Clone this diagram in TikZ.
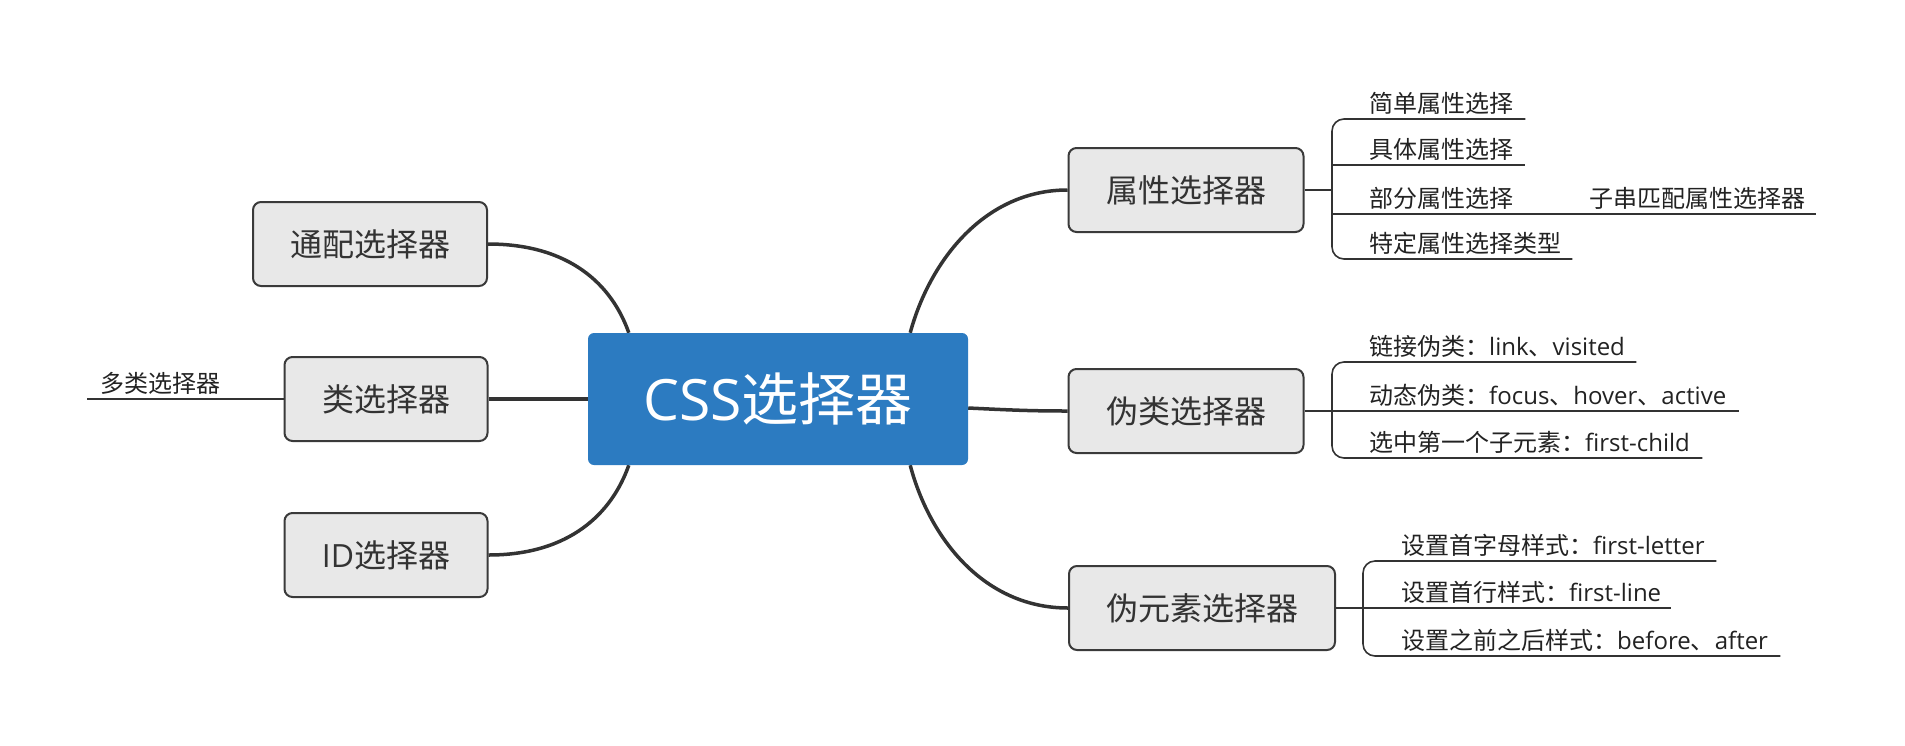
\documentclass[tikz,border=0pt]{standalone}
\usepackage{fontspec}
\setmainfont{Open Sans}
\newfontfamily\cjk{Noto Sans CJK SC}
\newcommand\zh[1]{{\cjk #1}}
\usetikzlibrary{backgrounds}
\definecolor{central}{HTML}{2C7BC1}
\definecolor{boxfill}{HTML}{E8E8E8}
\definecolor{bordercol}{HTML}{3A3A3A}
\definecolor{conncol}{HTML}{333333}
\definecolor{textcol}{HTML}{333333}
\definecolor{leafcol}{HTML}{222222}
\begin{document}
\begin{tikzpicture}[x=1pt,y=-1pt,
  topic/.style={draw=bordercol, fill=boxfill, line width=2pt, rounded corners=8pt,
    minimum height=84pt, inner sep=0pt, text=textcol, font=\fontsize{32}{38}\selectfont},
  conn/.style={draw=conncol, line width=3.5pt},
  leaf/.style={anchor=south west, inner xsep=0pt, inner ysep=4pt, align=left,
    font=\fontsize{24}{28}\selectfont, text=leafcol},
  thinline/.style={draw=conncol, line width=1.6pt, rounded corners=12pt},
]
\useasboundingbox (0,0) rectangle (1905,745);

% central
\node[fill=central, rounded corners=6pt, minimum width=380pt, minimum height=132pt,
  inner sep=0pt, text=white, font=\fontsize{57}{66}\selectfont] (root) at (778,399) {CSS\zh{选择器}};

% left topics
\node[topic, minimum width=234pt] (tp) at (370,244) {\zh{通配选择器}};
\node[topic, minimum width=203pt] (lei) at (386,399) {\zh{类选择器}};
\node[topic, minimum width=203pt] (idn) at (386,555) {ID\zh{选择器}};

% right topics
\node[topic, minimum width=235pt] (sx) at (1186,190) {\zh{属性选择器}};
\node[topic, minimum width=235pt] (wl) at (1186,411) {\zh{伪类选择器}};
\node[topic, minimum width=266pt] (wy) at (1202,608) {\zh{伪元素选择器}};

% left leaf
\node[leaf, text width=197pt] (dl) at (87,399) {\hspace*{13pt}\zh{多类选择器}};

% attribute leaves
\node[leaf, text width=193pt] (a1) at (1332,119) {\hspace*{37pt}\zh{简单属性选择}};
\node[leaf, text width=193pt] (a2) at (1332,165) {\hspace*{37pt}\zh{具体属性选择}};
\node[leaf, text width=245pt] (a3) at (1332,214) {\hspace*{37pt}\zh{部分属性选择}};
\node[leaf, text width=240pt] (a4) at (1332,259) {\hspace*{37pt}\zh{特定属性选择类型}};
\node[leaf, text width=239pt] (a5) at (1577,214) {\hspace*{12pt}\zh{子串匹配属性选择器}};

% pseudo-class leaves
\node[leaf, text width=304pt] (b1) at (1332,362) {\hspace*{37pt}\zh{链接伪类：}link\zh{、}visited};
\node[leaf, text width=407pt] (b2) at (1332,411) {\hspace*{37pt}\zh{动态伪类：}focus\zh{、}hover\zh{、}active};
\node[leaf, text width=370pt] (b3) at (1332,458) {\hspace*{37pt}\zh{选中第一个子元素：}first-child};

% pseudo-element leaves
\node[leaf, text width=353pt] (c1) at (1363,561) {\hspace*{38pt}\zh{设置首字母样式：}first-letter};
\node[leaf, text width=308pt] (c2) at (1363,608) {\hspace*{38pt}\zh{设置首行样式：}first-line};
\node[leaf, text width=417pt] (c3) at (1363,656) {\hspace*{38pt}\zh{设置之前之后样式：}before\zh{、}after};

\begin{scope}[on background layer]
  % main connectors
  \draw[conn] (tp.east) .. controls (570,244) and (612,285) .. ([xshift=41pt]root.north west);
  \draw[conn] (lei.east) -- (root.west);
  \draw[conn] (idn.east) .. controls (570,555) and (612,513) .. ([xshift=41pt]root.south west);
  \draw[conn] ([xshift=-58pt]root.north east) .. controls (930,260) and (985,190) .. (sx.west);
  \draw[conn] ([yshift=-9pt]root.east) .. controls (1010,410) and (1030,411) .. (wl.west);
  \draw[conn] ([xshift=-58pt]root.south east) .. controls (930,540) and (985,608) .. (wy.west);

  % left leaf line
  \draw[thinline] (lei.west) -- (dl.south west);

  % attribute bracket
  \draw[thinline] (sx.east) -- (sx.east -| a1.south west);
  \draw[thinline] (a1.south east) -- (a1.south west) -- (a4.south west) -- (a4.south east);
  \draw[thinline] (a2.south west) -- (a2.south east);
  \draw[thinline] (a3.south west) -- (a3.south east);
  \draw[thinline] (a3.south east) -- (a5.south east);

  % pseudo-class bracket
  \draw[thinline] (wl.east) -- (b2.south west);
  \draw[thinline] (b1.south east) -- (b1.south west) -- (b3.south west) -- (b3.south east);
  \draw[thinline] (b2.south west) -- (b2.south east);

  % pseudo-element bracket
  \draw[thinline] (wy.east) -- (c2.south west);
  \draw[thinline] (c1.south east) -- (c1.south west) -- (c3.south west) -- (c3.south east);
  \draw[thinline] (c2.south west) -- (c2.south east);
\end{scope}
\end{tikzpicture}
\end{document}
